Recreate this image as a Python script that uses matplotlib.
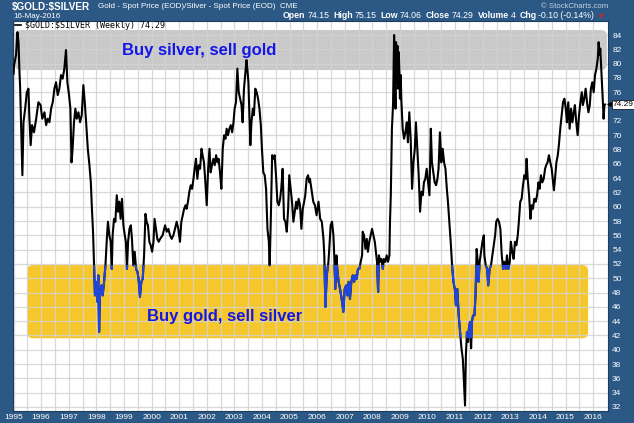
import matplotlib
matplotlib.use("Agg")
import matplotlib.pyplot as plt
from matplotlib.patches import FancyBboxPatch
from matplotlib.transforms import blended_transform_factory

# ---------------- data ----------------
dates = [
    1995.00, 1995.02, 1995.09, 1995.14, 1995.18, 1995.21, 1995.24, 1995.27, 1995.32, 1995.36,
    1995.42, 1995.48, 1995.54, 1995.57, 1995.62, 1995.67, 1995.74, 1995.82, 1995.90, 1995.98,
    1996.04, 1996.12, 1996.18, 1996.24, 1996.30, 1996.36, 1996.42, 1996.48, 1996.54, 1996.60,
    1996.66, 1996.72, 1996.78, 1996.84, 1996.90, 1996.95, 1997.01, 1997.06, 1997.10, 1997.14,
    1997.19, 1997.24, 1997.29, 1997.35, 1997.41, 1997.47, 1997.53, 1997.58, 1997.63, 1997.69,
    1997.75, 1997.80, 1997.84, 1997.88, 1997.92, 1997.95, 1997.99, 1998.04, 1998.07, 1998.10,
    1998.13, 1998.18, 1998.23, 1998.28, 1998.33, 1998.38, 1998.42, 1998.47, 1998.52, 1998.56,
    1998.59, 1998.64, 1998.69, 1998.74, 1998.79, 1998.83, 1998.88, 1998.93, 1998.98, 1999.03,
    1999.07, 1999.11, 1999.15, 1999.20, 1999.25, 1999.29, 1999.34, 1999.39, 1999.44, 1999.49,
    1999.53, 1999.58, 1999.63, 1999.68, 1999.73, 1999.78, 1999.82, 1999.87, 1999.92, 1999.97,
    2000.02, 2000.07, 2000.11, 2000.16, 2000.21, 2000.26, 2000.31, 2000.40, 2000.49, 2000.55,
    2000.61, 2000.67, 2000.73, 2000.79, 2000.85, 2000.91, 2000.97, 2001.03, 2001.08, 2001.13,
    2001.18, 2001.23, 2001.27, 2001.32, 2001.37, 2001.42, 2001.47, 2001.52, 2001.56, 2001.61,
    2001.66, 2001.71, 2001.76, 2001.81, 2001.85, 2001.90, 2001.95, 2002.00, 2002.05, 2002.10,
    2002.14, 2002.19, 2002.24, 2002.29, 2002.34, 2002.39, 2002.43, 2002.48, 2002.53, 2002.58,
    2002.63, 2002.68, 2002.72, 2002.77, 2002.82, 2002.87, 2002.92, 2002.97, 2003.01, 2003.06,
    2003.11, 2003.16, 2003.21, 2003.26, 2003.30, 2003.35, 2003.40, 2003.44, 2003.47, 2003.51,
    2003.54, 2003.58, 2003.62, 2003.67, 2003.71, 2003.76, 2003.81, 2003.86, 2003.91, 2003.96,
    2004.00, 2004.05, 2004.10, 2004.15, 2004.20, 2004.25, 2004.28, 2004.32, 2004.37, 2004.41,
    2004.46, 2004.51, 2004.56, 2004.61, 2004.66, 2004.70, 2004.75, 2004.80, 2004.85, 2004.90,
    2004.95, 2004.99, 2005.04, 2005.09, 2005.14, 2005.19, 2005.24, 2005.28, 2005.33, 2005.38,
    2005.43, 2005.48, 2005.53, 2005.57, 2005.62, 2005.67, 2005.72, 2005.74, 2005.86, 2005.92,
    2005.98, 2006.05, 2006.11, 2006.17, 2006.23, 2006.26, 2006.30, 2006.35, 2006.41, 2006.44,
    2006.49, 2006.54, 2006.59, 2006.62, 2006.66, 2006.70, 2006.73, 2006.78, 2006.83, 2006.89,
    2006.95, 2007.00, 2007.05, 2007.10, 2007.14, 2007.19, 2007.24, 2007.29, 2007.34, 2007.39,
    2007.43, 2007.48, 2007.53, 2007.58, 2007.63, 2007.65, 2007.70, 2007.75, 2007.80, 2007.84,
    2007.89, 2007.94, 2007.99, 2008.04, 2008.09, 2008.13, 2008.17, 2008.21, 2008.24, 2008.28,
    2008.33, 2008.38, 2008.42, 2008.47, 2008.52, 2008.57, 2008.62, 2008.64, 2008.67, 2008.69,
    2008.71, 2008.75, 2008.79, 2008.81, 2008.84, 2008.86, 2008.88, 2008.91, 2008.93, 2008.96,
    2008.98, 2009.00, 2009.03, 2009.05, 2009.10, 2009.15, 2009.20, 2009.25, 2009.29, 2009.34,
    2009.39, 2009.44, 2009.49, 2009.54, 2009.58, 2009.63, 2009.68, 2009.73, 2009.78, 2009.83,
    2009.87, 2009.92, 2009.97, 2010.02, 2010.07, 2010.12, 2010.16, 2010.21, 2010.26, 2010.31,
    2010.36, 2010.40, 2010.45, 2010.50, 2010.55, 2010.60, 2010.65, 2010.70, 2010.74, 2010.79,
    2010.84, 2010.89, 2010.94, 2010.99, 2011.03, 2011.08, 2011.13, 2011.18, 2011.23, 2011.28,
    2011.32, 2011.36, 2011.39, 2011.43, 2011.47, 2011.50, 2011.54, 2011.58, 2011.61, 2011.65,
    2011.70, 2011.74, 2011.78, 2011.82, 2011.85, 2011.89, 2011.94, 2011.99, 2012.04, 2012.06,
    2012.11, 2012.16, 2012.20, 2012.25, 2012.30, 2012.35, 2012.40, 2012.45, 2012.49, 2012.54,
    2012.59, 2012.64, 2012.69, 2012.74, 2012.78, 2012.83, 2012.88, 2012.93, 2012.98, 2013.02,
    2013.07, 2013.12, 2013.17, 2013.22, 2013.27, 2013.31, 2013.36, 2013.41, 2013.46, 2013.51,
    2013.56, 2013.59, 2013.63, 2013.68, 2013.73, 2013.77, 2013.82, 2013.87, 2013.92, 2013.97,
    2014.02, 2014.06, 2014.11, 2014.16, 2014.21, 2014.26, 2014.30, 2014.35, 2014.40, 2014.45,
    2014.50, 2014.55, 2014.58, 2014.62, 2014.67, 2014.72, 2014.76, 2014.81, 2014.86, 2014.91,
    2014.96, 2015.01, 2015.05, 2015.10, 2015.15, 2015.20, 2015.25, 2015.30, 2015.34, 2015.39,
    2015.44, 2015.49, 2015.54, 2015.59, 2015.63, 2015.68, 2015.73, 2015.78, 2015.83, 2015.88,
    2015.92, 2015.97, 2016.02, 2016.07, 2016.12, 2016.17, 2016.20, 2016.24, 2016.26, 2016.29,
    2016.31, 2016.33, 2016.36, 2016.38, 2016.41, 2016.43,
]
ratio = [
    78.6, 79.8, 81.2, 84.4, 83.0, 79.3, 76.5, 71.8, 64.4, 71.8,
    73.7, 76.0, 76.5, 72.8, 68.6, 71.4, 70.4, 72.3, 74.6, 74.2,
    72.3, 73.2, 71.4, 72.3, 71.8, 73.7, 74.6, 76.5, 77.4, 75.6,
    76.5, 78.4, 77.9, 79.3, 81.9, 77.4, 75.6, 73.7, 66.2, 68.1,
    71.8, 73.7, 72.3, 73.2, 71.8, 72.8, 77.0, 74.6, 71.8, 68.1,
    65.8, 63.4, 59.7, 56.5, 51.3, 47.6, 49.5, 46.7, 50.4, 42.5,
    47.6, 49.0, 47.6, 49.5, 51.8, 55.5, 57.9, 56.0, 55.1, 51.3,
    56.0, 58.3, 57.9, 61.6, 59.3, 60.7, 58.3, 61.1, 57.4, 56.0,
    55.1, 51.3, 55.1, 56.9, 57.4, 55.5, 51.8, 53.7, 51.3, 50.9,
    49.9, 47.4, 49.5, 49.9, 53.2, 59.0, 57.9, 57.4, 55.1, 54.6,
    53.7, 55.1, 58.3, 56.9, 55.5, 55.1, 55.5, 56.0, 57.4, 56.5,
    56.9, 56.0, 55.5, 56.0, 56.9, 57.9, 56.9, 55.1, 57.9, 58.8,
    59.7, 60.2, 59.7, 60.7, 62.1, 63.0, 62.5, 63.9, 65.3, 66.7,
    63.9, 65.8, 65.3, 68.1, 67.2, 66.2, 63.4, 60.2, 65.3, 68.1,
    64.8, 65.8, 66.7, 65.8, 67.2, 66.2, 66.7, 64.8, 62.5, 68.1,
    70.0, 69.5, 70.9, 70.0, 70.9, 71.4, 70.4, 71.8, 73.7, 74.6,
    79.3, 76.0, 75.1, 74.2, 71.8, 76.5, 78.8, 80.5, 79.3, 77.4,
    73.7, 68.6, 71.8, 73.7, 72.8, 76.5, 76.0, 75.1, 73.7, 71.4,
    68.1, 64.8, 64.4, 62.5, 56.9, 55.1, 51.8, 57.9, 67.2, 66.7,
    67.2, 64.4, 60.7, 60.2, 61.1, 62.5, 65.3, 58.3, 57.9, 56.5,
    59.7, 64.4, 62.5, 60.7, 57.9, 59.3, 60.7, 59.7, 61.1, 60.2,
    56.9, 59.7, 60.7, 61.6, 63.9, 64.4, 63.4, 63.9, 60.7, 60.2,
    58.8, 60.7, 58.3, 57.9, 55.5, 53.2, 46.0, 50.4, 52.3, 54.1,
    57.4, 57.9, 56.0, 53.2, 48.5, 53.2, 51.3, 49.5, 48.5, 47.1,
    45.3, 48.5, 49.0, 47.6, 49.5, 47.1, 49.5, 50.4, 49.5, 50.4,
    49.9, 51.3, 51.3, 52.3, 53.2, 56.5, 56.0, 54.1, 55.5, 53.7,
    55.1, 56.0, 56.9, 56.0, 55.1, 53.7, 52.3, 48.1, 53.2, 52.3,
    52.7, 51.3, 52.7, 52.3, 53.2, 52.3, 53.2, 57.9, 61.6, 66.2,
    70.9, 74.2, 84.0, 79.3, 73.7, 83.0, 77.4, 82.5, 76.5, 81.6,
    78.8, 75.1, 78.4, 75.1, 70.9, 69.5, 70.4, 71.8, 69.0, 73.2,
    69.5, 62.5, 66.2, 68.1, 71.8, 68.1, 64.4, 59.3, 62.1, 61.6,
    63.4, 63.9, 65.3, 63.4, 61.6, 70.9, 66.2, 64.8, 63.4, 63.0,
    63.9, 65.3, 70.4, 66.2, 68.1, 66.2, 65.3, 62.5, 60.7, 57.9,
    55.1, 51.8, 49.5, 48.5, 46.2, 48.5, 44.8, 42.5, 40.2, 38.7,
    35.5, 32.2, 39.2, 42.5, 41.1, 43.0, 43.9, 40.2, 43.9, 44.8,
    44.8, 47.6, 54.1, 52.3, 49.5, 52.3, 53.7, 55.1, 56.0, 53.2,
    51.8, 51.3, 49.0, 51.3, 51.8, 53.2, 54.6, 56.0, 57.9, 58.3,
    57.9, 56.9, 53.2, 51.3, 52.3, 51.3, 53.2, 51.3, 52.3, 55.1,
    53.7, 52.7, 55.1, 54.6, 56.0, 57.9, 60.7, 61.1, 63.0, 64.4,
    63.9, 66.7, 63.9, 61.6, 58.3, 60.2, 59.7, 61.1, 60.7, 61.6,
    63.4, 62.5, 64.4, 63.4, 63.9, 65.3, 65.8, 66.2, 67.2, 66.2,
    65.3, 63.4, 62.3, 63.9, 66.2, 67.2, 68.6, 70.9, 72.8, 74.6,
    75.1, 73.7, 71.8, 74.6, 70.9, 73.7, 71.8, 73.2, 74.2, 71.8,
    70.0, 72.8, 74.6, 76.0, 74.2, 75.1, 76.5, 74.6, 73.2, 74.2,
    76.5, 77.4, 76.0, 78.4, 79.3, 80.7, 83.0, 81.2, 82.1, 79.8,
    78.4, 76.5, 74.2, 72.3, 74.2, 74.29,
]
y_ticks = list(range(32, 86, 2))
year_ticks = list(range(1995, 2017))
half_year_ticks = [y + 0.5 for y in range(1995, 2016)]
last_value = 74.29
silver_zone = (1995.05, 2016.50, 79.1, 84.7)   # x0, x1, y0, y1
gold_zone = (1995.49, 2015.82, 41.6, 51.85)
silver_text = "Buy silver, sell gold"
gold_text = "Buy gold, sell silver"

# ---------------- figure ----------------
W, H = 634, 423
BG = "#2b5884"
fig = plt.figure(figsize=(W / 100, H / 100), dpi=100)
fig.patch.set_facecolor(BG)
ax = fig.add_axes([13 / W, 1 - 411 / H, (608 - 13) / W, (411 - 21) / H])
ax.set_facecolor("white")

# grid ticks first, then limits (set_xticks may widen the view)
ax.set_xticks(year_ticks)
ax.set_xticks(half_year_ticks, minor=True)
ax.set_yticks(y_ticks)
ax.set_xlim(1994.98, 2016.54)
ax.set_ylim(31.44, 85.96)

# aspect factor (data-y per px) / (data-x per px) for round corners
asp = (54.52 / 390) / (21.56 / 595)

def zone(z, color):
    x0, x1, y0, y1 = z
    p = FancyBboxPatch((x0, y0), x1 - x0, y1 - y0,
                       boxstyle="round,pad=0,rounding_size=0.22",
                       mutation_aspect=asp, fc=color, ec="none", zorder=1)
    ax.add_patch(p)
    return p

zone(silver_zone, "#c9c9c9")
gold_patch = zone(gold_zone, "#f6c72c")

ax.set_axisbelow("line")
ax.grid(True, which="both", axis="x", color="#d3d3d3", lw=0.9, alpha=0.85)
ax.grid(True, which="major", axis="y", color="#d3d3d3", lw=0.9, alpha=0.85)

# series
ax.plot(dates, ratio, color="black", lw=1.5, zorder=3)
blue_line, = ax.plot(dates, ratio, color="#1f45dc", lw=1.5, zorder=4)
blue_line.set_clip_path(gold_patch)

# zone labels
ax.text(2001.74, 81.9, silver_text, color="#1616e8", fontsize=12,
        fontweight="bold", family="Liberation Sans", ha="center", va="center", zorder=5)
ax.text(2002.64, 44.7, gold_text, color="#1616e8", fontsize=12,
        fontweight="bold", family="Liberation Sans", ha="center", va="center", zorder=5)

# ticks
ax.yaxis.tick_right()
ax.tick_params(axis="both", which="both", length=0)
ax.tick_params(axis="y", pad=3, labelsize=6, labelcolor="white")
ax.tick_params(axis="x", pad=2.5, labelsize=6, labelcolor="white")
ax.set_xticklabels([str(y) for y in year_ticks])
ax.set_yticklabels(["" if v == 74 else str(v) for v in y_ticks])
for lab in ax.get_xticklabels() + ax.get_yticklabels():
    lab.set_family("Liberation Sans")
for s in ax.spines.values():
    s.set_color("#1c3d5e")
    s.set_linewidth(0.8)

# last-value marker on the right axis
tr = blended_transform_factory(ax.transAxes, ax.transData)
ax.text(1.008, last_value, f"{last_value:.2f}", transform=tr, fontsize=6,
        family="Liberation Sans", color="black", ha="left", va="center",
        bbox=dict(boxstyle="square,pad=0.15", fc="white", ec="black", lw=0.5),
        clip_on=False, zorder=6)
ax.plot([1.002], [last_value], marker="<", ms=2.5, color="black",
        transform=tr, clip_on=False, zorder=6)

# legend line inside the plot
ax.plot([0.004, 0.014], [0.9885, 0.9885], color="black", lw=1.2,
        transform=ax.transAxes, zorder=6)
ax.text(0.02, 0.9885, f"$GOLD:$SILVER (Weekly) {last_value:.2f}",
        transform=ax.transAxes, fontsize=6, family="DejaVu Sans Mono",
        color="black", ha="left", va="center", parse_math=False, zorder=6)

# ---------------- header ----------------
def px(x, y):
    return x / W, 1 - y / H

fig.text(*px(12, 7), "$GOLD:$SILVER", color="white", fontsize=7.2,
         fontweight="bold", family="Liberation Sans", va="center", parse_math=False)
fig.text(*px(98, 7), "Gold - Spot Price (EOD)/Silver - Spot Price (EOD)  CME",
         color="white", fontsize=5.8, family="Liberation Sans", va="center")
fig.text(*px(13, 16), "16-May-2016", color="white", fontsize=5.8,
         family="Liberation Sans", va="center")
fig.text(*px(608, 6), "\u00a9 StockCharts.com", color="#c4d2e0", fontsize=5.6,
         family="Liberation Sans", va="center", ha="right")

parts = [("Open", True), ("74.15", False), ("High", True), ("75.15", False),
         ("Low", True), ("74.06", False), ("Close", True), ("74.29", False),
         ("Volume", True), ("4", False), ("Chg", True), ("-0.10 (-0.14%)", False)]
renderer = fig.canvas.get_renderer()
xcur = 283
for i, (s, bold) in enumerate(parts):
    t = fig.text(*px(xcur, 16), s, color="white", fontsize=6.3,
                 fontweight="bold" if bold else "normal",
                 family="Liberation Sans", va="center")
    bb = t.get_window_extent(renderer)
    xcur = bb.x1 + (2.0 if bold else 3.8)
fig.text(*px(xcur + 1, 16.5), "\u25bc", color="#e02020", fontsize=4,
         family="DejaVu Sans", va="center")

fig.savefig("out.png", dpi=100, facecolor=BG)
